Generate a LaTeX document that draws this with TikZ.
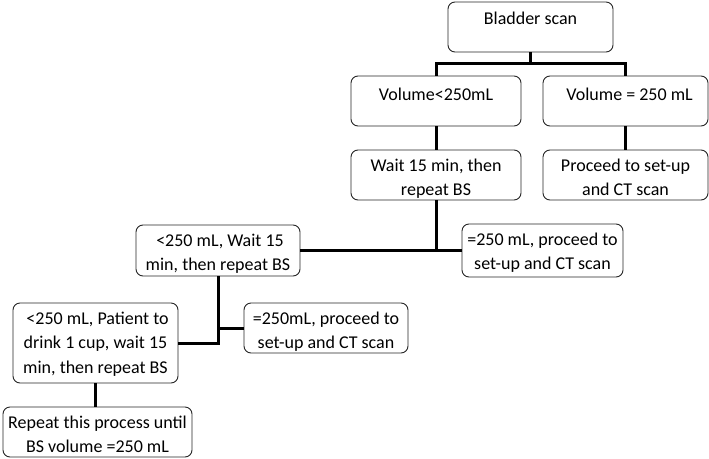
\documentclass[tikz,border=0pt]{standalone}
\usepackage{fontspec}
\setmainfont{Carlito}
\begin{document}
\begin{tikzpicture}[x=1pt,y=-1pt,
  box/.style={draw=black!85, line width=0.9pt, rounded corners=7pt, inner sep=0pt, fill=white},
  txt/.style={anchor=north, inner sep=0pt, align=center, font=\fontsize{18pt}{24.5pt}\selectfont},
  conn/.style={line width=3pt, black}]
\useasboundingbox[fill=white] (0,0) rectangle (709,458);
% boxes
\node[box, minimum width=165pt, minimum height=50pt] (A) at (530.5,27) {};
\node[box, minimum width=170pt, minimum height=50pt] (B) at (436,101) {};
\node[box, minimum width=165pt, minimum height=50pt] (C) at (625.5,101) {};
\node[box, minimum width=170pt, minimum height=50pt] (D) at (436,175) {};
\node[box, minimum width=165pt, minimum height=50pt] (E) at (625.5,175) {};
\node[box, minimum width=164pt, minimum height=51pt] (F) at (218,250.5) {};
\node[box, minimum width=161pt, minimum height=53pt] (G) at (542.5,250.5) {};
\node[box, minimum width=165pt, minimum height=80pt] (H) at (95.5,343) {};
\node[box, minimum width=164pt, minimum height=50pt] (I) at (326,328) {};
\node[box, minimum width=189pt, minimum height=50pt] (J) at (97.5,432) {};
% texts
\node[txt] (At) at ([yshift=-10pt]A.north) {Bladder scan};
\node[txt] (Bt) at ([yshift=-12pt]B.north) {Volume<250mL};
\node[txt] (Ct) at ([yshift=-12pt]C.north) {\ \ Volume = 250 mL};
\node[txt] (Dt) at ([yshift=-9pt]D.north) {Wait 15 min, then\\repeat BS};
\node[txt] (Et) at ([yshift=-9pt]E.north) {Proceed to set-up\\and CT scan};
\node[txt] (Ft) at ([yshift=-9pt]F.north) {\ <250 mL, Wait 15\\min, then repeat BS};
\node[txt] (Gt) at ([yshift=-9pt]G.north) {=250 mL, proceed to\\set-up and CT scan};
\node[txt] (Ht) at ([yshift=-9pt]H.north) {\ <250 mL, Patient to\\drink 1 cup, wait 15\\min, then repeat BS};
\node[txt] (It) at ([yshift=-9pt]I.north) {=250mL, proceed to\\set-up and CT scan};
\node[txt] (Jt) at ([yshift=-9pt]J.north) {Repeat this process until\\BS volume =250 mL};
% connectors
\coordinate (j1) at ([yshift=-11pt]A.south);
\draw[conn] (A.south) -- (j1);
\draw[conn] (j1) -| (B.north);
\draw[conn] (j1) -| (C.north);
\draw[conn] (B.south) -- (D.north);
\draw[conn] (C.south) -- (E.north);
\draw[conn] (D.south) |- (F.east);
\draw[conn] (D.south) |- (G.west);
\draw[conn] (F.south) |- (H.east);
\draw[conn] (F.south) |- (I.west);
\draw[conn] (H.south) -- (H.south |- J.north);
\end{tikzpicture}
\end{document}
